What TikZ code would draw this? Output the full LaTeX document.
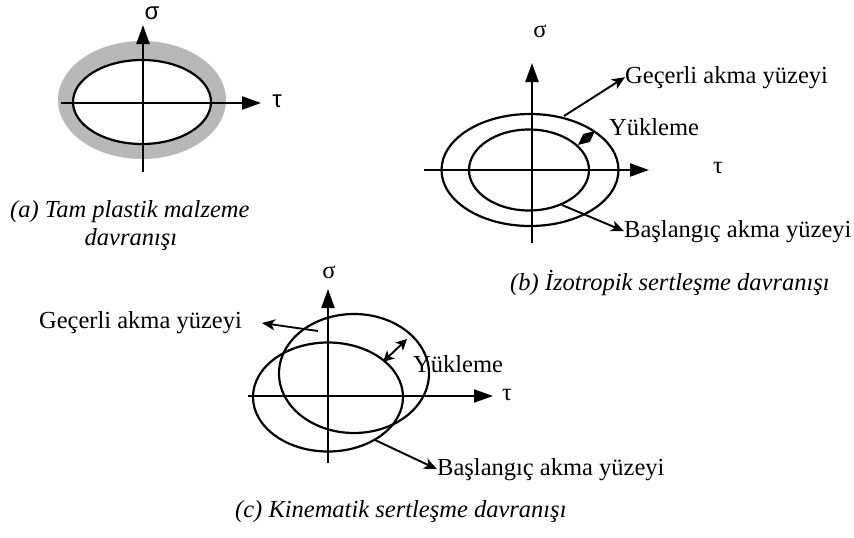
\documentclass[tikz,border=0pt]{standalone}
\usepackage{fontspec}
\setmainfont{Liberation Serif}
\newfontfamily\greeksans{Liberation Sans}
\usetikzlibrary{arrows.meta}
\tikzset{
  txt/.style={inner sep=0pt, font=\fontsize{24.5}{28}\selectfont},
  captxt/.style={inner sep=0pt, font=\fontsize{24.5}{28}\selectfont\itshape},
  axis/.style={line width=2.2pt, -{Triangle[length=19pt,width=13pt]}},
  curve/.style={line width=2.2pt},
  lead/.style={line width=1.9pt, -{Stealth[length=13pt,width=11pt,inset=3.5pt]}},
  loadb/.style={line width=1.4pt, {Triangle[length=11pt,width=10pt]}-{Triangle[length=11pt,width=10pt]}},
  loadc/.style={line width=1.9pt, {Stealth[length=11pt,width=11pt,inset=3pt]}-{Stealth[length=11pt,width=11pt,inset=3pt]}},
}
\begin{document}
\begin{tikzpicture}[x=1pt,y=-1pt]
\useasboundingbox (0,0) rectangle (854,538);
\fill[white] (0,0) rectangle (854,538);

% ---------- (a) ----------
\fill[black!28, even odd rule] (142,100) ellipse [x radius=84pt, y radius=59pt]
                               (142,102) ellipse [x radius=69pt, y radius=42pt];
\draw[curve] (142,102) ellipse [x radius=69pt, y radius=42pt];
\coordinate (a-xl) at (61,103);
\coordinate (a-xr) at (261,103);
\coordinate (a-yb) at (143,172);
\coordinate (a-yt) at (143,25);
\draw[axis] (a-xl) -- (a-xr);
\draw[axis] (a-yb) -- (a-yt);
\node[txt, font=\fontsize{24}{28}\selectfont\greeksans] (a-sig) at (152,13) {σ};
\node[txt, font=\fontsize{24}{28}\selectfont\greeksans] (a-tau) at (277,101) {τ};
\node[captxt, anchor=base west] (a-cap1) at (10,217) {(a) Tam plastik malzeme};
\node[captxt, anchor=base] (a-cap2) at (131,245) {davranışı};

% ---------- (b) ----------
\draw[curve] (530,170) ellipse [x radius=88.5pt, y radius=56pt];
\draw[curve] (529,170) ellipse [x radius=60pt, y radius=40.5pt];
\coordinate (b-xl) at (424,170);
\coordinate (b-xr) at (649,170);
\coordinate (b-yb) at (532,243);
\coordinate (b-yt) at (532,63);
\draw[axis] (b-xl) -- (b-xr);
\draw[axis] (b-yb) -- (b-yt);
\node[txt] (b-sig) at (540,31) {σ};
\node[txt] (b-tau) at (718,168) {τ};
\node[txt, anchor=base west] (b-cur) at (625,83) {Geçerli akma yüzeyi};
\node[txt, anchor=base west] (b-load) at (609,135) {Yükleme};
\node[txt, anchor=base west] (b-ini) at (624,237) {Başlangıç akma yüzeyi};
\coordinate (b-outpt) at (564,116);
\coordinate (b-inpt) at (562,205);
\coordinate (b-l1) at (578,145);
\coordinate (b-l2) at (595,131);
\draw[lead] (b-outpt) -- (b-cur.west);
\draw[lead] (b-inpt) -- (b-ini.west);
\draw[loadb] (b-l1) -- (b-l2);
\node[captxt, anchor=base west] (b-cap) at (510,290) {(b) İzotropik sertleşme davranışı};

% ---------- (c) ----------
\draw[curve] (328,397) ellipse [x radius=75pt, y radius=54.5pt];
\draw[curve] (354,373.5) ellipse [x radius=75pt, y radius=59.5pt];
\coordinate (c-xl) at (248,396);
\coordinate (c-xr) at (493,396);
\coordinate (c-yb) at (328,463);
\coordinate (c-yt) at (328,289);
\draw[axis] (c-xl) -- (c-xr);
\draw[axis] (c-yb) -- (c-yt);
\node[txt] (c-sig) at (329,272) {σ};
\node[txt] (c-tau) at (507,395) {τ};
\node[txt, anchor=base east] (c-cur) at (242,328) {Geçerli akma yüzeyi};
\node[txt, anchor=base west] (c-load) at (413,372) {Yükleme};
\node[txt, anchor=base west] (c-ini) at (437,475) {Başlangıç akma yüzeyi};
\coordinate (c-outpt) at (318,331);
\coordinate (c-inpt) at (375,440);
\coordinate (c-l1) at (383,362);
\coordinate (c-l2) at (407,339);
\coordinate (c-curtip) at (262,323);
\draw[lead] (c-outpt) -- (c-curtip);
\draw[lead] (c-inpt) -- (c-ini.west);
\draw[loadc] (c-l1) -- (c-l2);
\node[captxt, anchor=base west] (c-cap) at (235,517) {(c) Kinematik sertleşme davranışı};
\end{tikzpicture}
\end{document}
